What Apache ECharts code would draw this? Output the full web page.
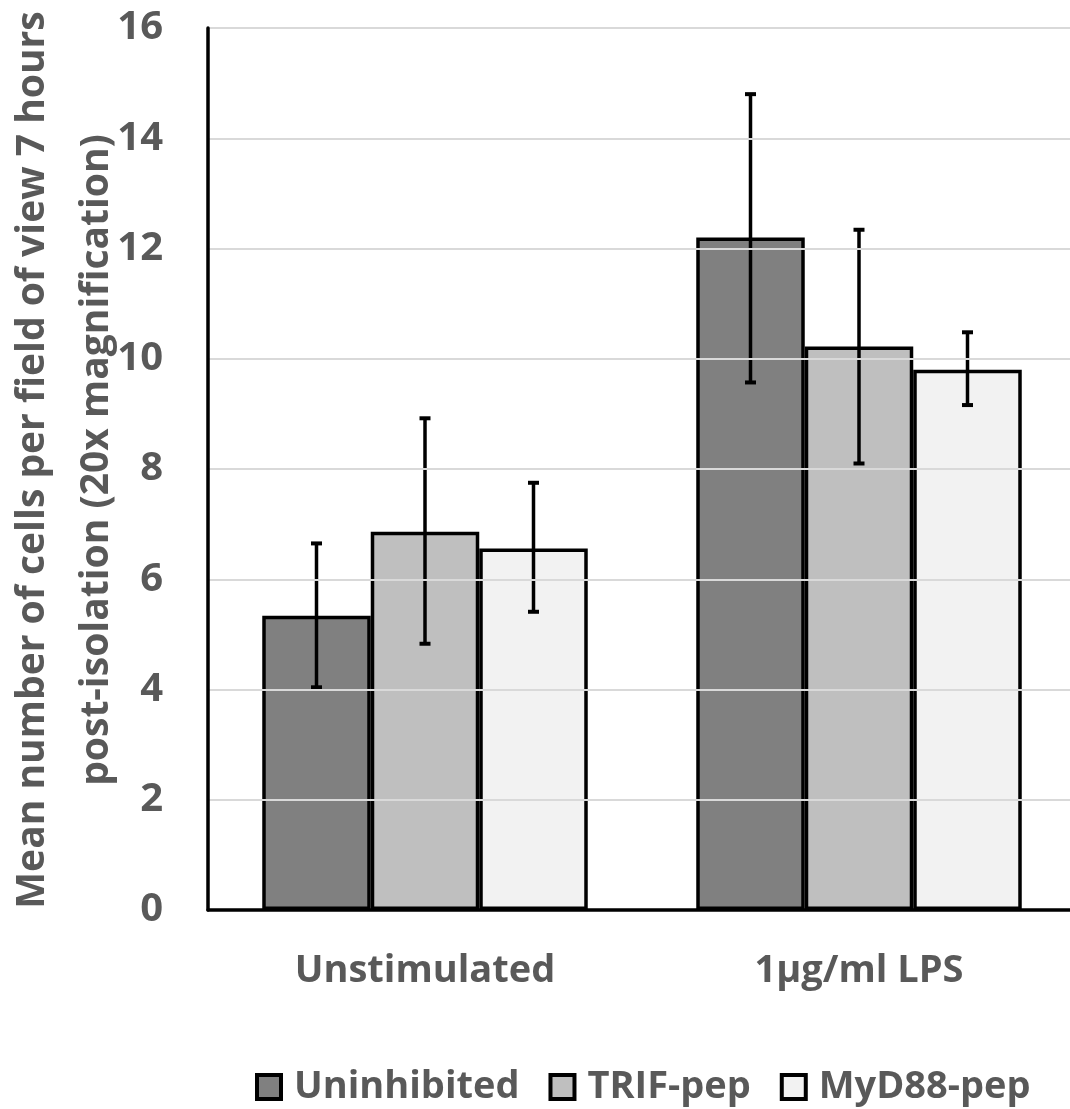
<!DOCTYPE html>
<html>
<head>
<meta charset="utf-8">
<script src="https://cdn.jsdelivr.net/npm/echarts@6/dist/echarts.min.js"></script>
<style>
  html, body { margin: 0; padding: 0; background: #fff; }
  #chart { width: 1070px; height: 1109px; }
</style>
</head>
<body>
<div id="chart"></div>
<script>
const categories = ['Unstimulated', '1\u00b5g/ml LPS'];
const seriesNames = ['Uninhibited', 'TRIF-pep', 'MyD88-pep'];
const uninhibited = [5.34, 12.20];
const trifPep = [6.86, 10.22];
const myd88Pep = [6.56, 9.80];
const uninhibitedErrLow = [4.04, 9.57];
const uninhibitedErrHigh = [6.65, 14.80];
const trifPepErrLow = [4.83, 8.10];
const trifPepErrHigh = [8.92, 12.34];
const myd88PepErrLow = [5.41, 9.16];
const myd88PepErrHigh = [7.75, 10.48];
const yTicks = [0, 2, 4, 6, 8, 10, 12, 14, 16];

const values = [uninhibited, trifPep, myd88Pep];
const errLow = [uninhibitedErrLow, trifPepErrLow, myd88PepErrLow];
const errHigh = [uninhibitedErrHigh, trifPepErrHigh, myd88PepErrHigh];
const colors = ['#808080', '#bfbfbf', '#f2f2f2'];
const FONT = '"Open Sans", sans-serif';
const TXT = '#595959';
const CAT_GAP = 0.25;

const chart = echarts.init(document.getElementById('chart'));

const barSeries = seriesNames.map((name, i) => ({
  name: name,
  type: 'bar',
  data: values[i],
  barGap: '0%',
  barCategoryGap: (CAT_GAP * 100) + '%',
  itemStyle: { color: colors[i], borderColor: '#000', borderWidth: 3.5 },
  emphasis: { disabled: true },
  z: 2
}));

const errSeries = seriesNames.map((name, i) => ({
  type: 'custom',
  name: name + ' error',
  data: categories.map((c, k) => [k, errLow[i][k], errHigh[i][k]]),
  z: 5,
  silent: true,
  renderItem: function (params, api) {
    const k = api.value(0);
    const lowP = api.coord([k, api.value(1)]);
    const highP = api.coord([k, api.value(2)]);
    const band = api.size([1, 0])[0];
    const bw = band * (1 - CAT_GAP) / 3;
    const x = lowP[0] + (i - 1) * bw;
    const cap = 5.5;
    const st = { stroke: '#000', lineWidth: 3.5 };
    return {
      type: 'group',
      children: [
        { type: 'line', shape: { x1: x, y1: highP[1], x2: x, y2: lowP[1] }, style: st },
        { type: 'line', shape: { x1: x - cap, y1: highP[1], x2: x + cap, y2: highP[1] }, style: { stroke: '#000', lineWidth: 4 } },
        { type: 'line', shape: { x1: x - cap, y1: lowP[1], x2: x + cap, y2: lowP[1] }, style: { stroke: '#000', lineWidth: 4 } }
      ]
    };
  }
}));

chart.setOption({
  animation: false,
  backgroundColor: '#fff',
  grid: { left: 208, top: 28, width: 868, height: 882, containLabel: false, outerBoundsMode: 'none' },
  legend: {
    data: seriesNames,
    top: 1063,
    left: 250,
    icon: 'rect',
    itemWidth: 24,
    itemHeight: 24,
    itemGap: 29,
    itemStyle: { borderColor: '#000', borderWidth: 4 },
    textStyle: { fontFamily: FONT, fontWeight: 'bold', fontSize: 38, color: TXT, padding: [0, 0, 0, 8] }
  },
  xAxis: {
    type: 'category',
    data: categories,
    axisLine: { lineStyle: { color: '#000', width: 3.5 } },
    axisTick: { show: false },
    axisLabel: { fontFamily: FONT, fontWeight: 'bold', fontSize: 38, color: TXT, margin: 42 },
    z: 10
  },
  yAxis: {
    type: 'value',
    min: 0,
    max: 16,
    interval: 2,
    axisLine: { show: true, lineStyle: { color: '#000', width: 3.5 } },
    axisTick: { show: false },
    splitLine: { lineStyle: { color: '#d9d9d9', width: 2 } },
    axisLabel: {
      fontFamily: FONT, fontWeight: 'bold', fontSize: 40, color: TXT, margin: 45,
      formatter: v => yTicks.includes(v) ? String(v) : ''
    },
    name: 'Mean number of cells per field of view 7 hours\npost-isolation (20x magnification)',
    nameLocation: 'middle',
    nameGap: 79,
    nameMoveOverlap: false,
    nameTextStyle: { fontFamily: FONT, fontWeight: 'bold', fontSize: 39, color: TXT, lineHeight: 64, padding: [0, 0, 0, 18] },
    z: 10
  },
  series: [...barSeries, ...errSeries]
});
</script>
</body>
</html>
